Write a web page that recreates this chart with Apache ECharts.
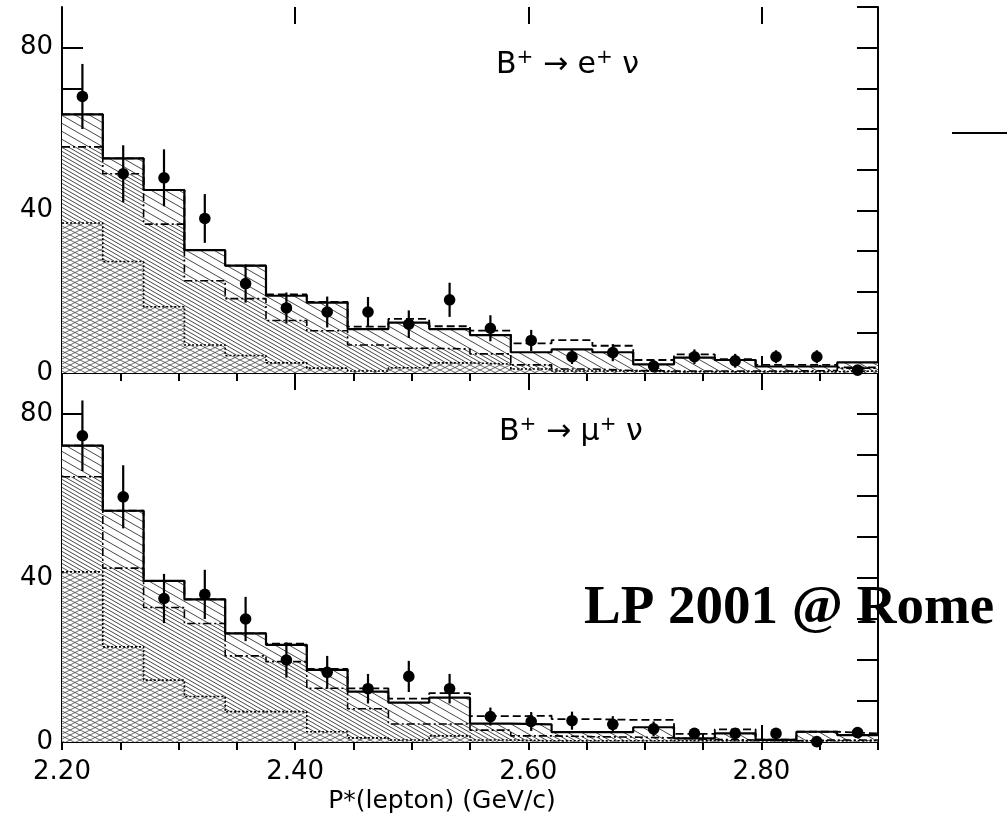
<!DOCTYPE html>
<html>
<head>
<meta charset="utf-8">
<script src="https://cdn.jsdelivr.net/npm/echarts@6/dist/echarts.min.js"></script>
<style>
html,body{margin:0;padding:0;background:#fff;}
#chart{width:1007px;height:818px;}
</style>
</head>
<body>
<div id="chart"></div>
<script>
// ---------- DATA ----------
const binEdges = [2.200,2.235,2.270,2.305,2.340,2.375,2.410,2.445,2.480,2.515,2.550,2.585,2.620,2.655,2.690,2.725,2.760,2.795,2.830,2.865,2.900];
const binCenters = [2.2175,2.2525,2.2875,2.3225,2.3575,2.3925,2.4275,2.4625,2.4975,2.5325,2.5675,2.6025,2.6375,2.6725,2.7075,2.7425,2.7775,2.8125,2.8475,2.8825];
const xTickLabels = ['2.20','2.40','2.60','2.80'];
const yTickLabels = ['0','40','80'];

// B+ -> e+ nu panel
const eTotal   = [63.6,52.8,45.0,30.2,26.4,19.0,17.3,10.8,12.4,10.8,9.3,5.1,5.8,5.1,2.1,3.8,3.2,1.6,1.6,2.6];
const eDashed  = [63.6,52.8,45.0,30.2,26.4,19.3,17.5,11.4,13.3,11.5,10.4,7.3,8.1,6.7,3.2,4.6,3.4,2.0,2.0,1.4];
const eMiddle  = [55.6,49.0,36.6,22.7,18.3,12.9,10.4,6.9,6.1,5.9,4.7,2.0,1.0,0.6,0.5,0.5,0.5,0.5,0.6,1.2];
const eLower   = [36.9,27.4,16.3,6.9,4.3,2.5,1.2,0.5,1.3,2.5,2.2,1.0,0.5,0.5,0.3,0.3,0.3,0.3,0.3,0.5];
const eData    = [68,49,48,38,22,16,15,15,12,18,11,8,4,5,1.7,4,3,4,4,0.7];
const eErr     = [8,7,7,6,4.7,3.8,3.8,3.7,3.4,4.2,3.2,2.6,1.8,2.1,1.5,1.8,1.7,1.6,1.6,0];

// B+ -> mu+ nu panel
const mTotal   = [72.3,56.4,39.3,34.8,26.5,23.7,17.6,12.3,9.6,10.8,4.5,4.3,2.4,2.4,3.6,0.9,2.1,0.5,2.5,1.7];
const mDashed  = [72.3,56.4,39.3,34.8,26.5,24.0,17.8,13.1,10.6,11.9,6.3,6.4,5.6,5.4,5.4,2.0,3.1,0.6,2.5,2.1];
const mMiddle  = [64.7,42.4,32.8,28.9,21.0,19.6,13.1,8.1,4.4,4.4,2.9,1.5,1.3,1.2,1.0,0.6,0.5,0.3,0.5,0.5];
const mLower   = [41.5,23.2,15.1,11.1,7.4,7.4,2.5,1.0,0.5,1.5,0.5,0.3,0.3,0.3,0.3,0.3,0.3,0.3,0.3,0.3];
const mData    = [74.7,59.8,35,36,30,20,17,13,16,13,6.2,5,5.2,4.3,3.2,2.1,2.1,2.1,0.1,2.3];
const mErr     = [8.6,7.7,6,6,5.4,4.3,4,3.6,3.8,3.6,2.2,2.3,2.2,2,1.8,1.2,1.2,1.2,0,1.2];

// ---------- HATCH PATTERNS ----------
function hatch(w, h, offsets, back, fwd, color, lw) {
  const c = document.createElement('canvas');
  c.width = w; c.height = h;
  const g = c.getContext('2d');
  g.fillStyle = '#fff'; g.fillRect(0, 0, w, h);
  g.strokeStyle = color; g.lineWidth = lw;
  g.beginPath();
  for (const ox of offsets) {
    for (let k = -1; k <= 1; k++) {
      const x0 = ox + k * w;
      if (back) { g.moveTo(x0 - w, -h); g.lineTo(x0 + 2 * w, 2 * h); }
      if (fwd)  { g.moveTo(x0 - w, 2 * h); g.lineTo(x0 + 2 * w, -h); }
    }
  }
  g.stroke();
  return { image: c, repeat: 'repeat' };
}
const sparseHatch = hatch(14, 8, [0], true, false, '#333', 0.9);
const denseHatch  = hatch(14, 8, [0, 7], true, false, '#333', 0.9);
const crossHatch  = hatch(10, 5, [0], true, true, '#444', 0.8);

// ---------- HELPERS ----------
function steps(vals) {
  const d = vals.map((v, i) => [binEdges[i], v]);
  d.push([binEdges[binEdges.length - 1], vals[vals.length - 1]]);
  return d;
}
function fill(vals, pattern, xi, yi) {
  return { type: 'line', step: 'end', xAxisIndex: xi, yAxisIndex: yi, data: steps(vals),
    showSymbol: false, silent: true, z: 1, lineStyle: { width: 0, opacity: 0 },
    areaStyle: { color: pattern, opacity: 1 } };
}
function outline(vals, type, width, xi, yi) {
  return { type: 'line', step: 'end', xAxisIndex: xi, yAxisIndex: yi, data: steps(vals),
    showSymbol: false, silent: true, z: 2,
    lineStyle: { color: '#000', width: width, type: type } };
}
function points(vals, errs, xi, yi) {
  return { type: 'custom', xAxisIndex: xi, yAxisIndex: yi, z: 3, silent: true,
    data: binCenters.map((x, i) => [x, vals[i], errs[i]]),
    renderItem: function (params, api) {
      const x = api.value(0), y = api.value(1), e = api.value(2);
      const p = api.coord([x, y]);
      const hi = api.coord([x, y + e]);
      const lo = api.coord([x, Math.max(0, y - e)]);
      return { type: 'group', children: [
        { type: 'line', shape: { x1: p[0], y1: hi[1], x2: p[0], y2: lo[1] }, style: { stroke: '#000', lineWidth: 2.2 } },
        { type: 'circle', shape: { cx: p[0], cy: p[1], r: 5.8 }, style: { fill: '#000' } }
      ] };
    } };
}
const axisLineStyle = { show: true, lineStyle: { color: '#000', width: 2 } };
function xAx(grid, pos, interval, len, showLine, labels) {
  return { type: 'value', gridIndex: grid, position: pos, min: 2.2, max: 2.9, interval: interval,
    axisLine: showLine ? axisLineStyle : { show: false },
    axisTick: { show: true, inside: true, length: len, lineStyle: { color: '#000', width: 2 } },
    splitLine: { show: false },
    axisLabel: labels ? { show: true, margin: 17, color: '#000', fontSize: 26, fontFamily: 'DejaVu Sans',
      showMinLabel: true, showMaxLabel: false,
      formatter: v => { const s = v.toFixed(2); return xTickLabels.indexOf(s) >= 0 ? s : ''; } } : { show: false } };
}
function yAx(grid, pos, labels) {
  return { type: 'value', gridIndex: grid, position: pos, min: 0, max: 90, interval: 10,
    axisLine: axisLineStyle,
    axisTick: { show: true, inside: true, length: 21, lineStyle: { color: '#000', width: 2 } },
    splitLine: { show: false },
    axisLabel: labels ? { show: true, margin: 9, color: '#000', fontSize: 26, fontFamily: 'DejaVu Sans',
      showMinLabel: true, showMaxLabel: false,
      formatter: v => { const s = String(v); return yTickLabels.indexOf(s) >= 0 ? s : ''; } } : { show: false } };
}

const labelRich = {
  b: { fontSize: 30, fontFamily: 'DejaVu Sans', color: '#000', lineHeight: 34, verticalAlign: 'middle' },
  s: { fontSize: 20, fontFamily: 'DejaVu Sans', color: '#000', lineHeight: 20, verticalAlign: 'top' }
};

const option = {
  animation: false,
  backgroundColor: '#fff',
  grid: [
    { left: 62, right: 129, top: 7, height: 366, show: false },
    { left: 62, right: 129, top: 373, height: 369, show: false }
  ],
  xAxis: [
    xAx(0, 'bottom', 0.05, 8, true, false),
    xAx(0, 'top', 0.05, 8, true, false),
    xAx(0, 'bottom', 0.2, 17, false, false),
    xAx(0, 'top', 0.2, 17, false, false),
    xAx(1, 'bottom', 0.05, 8, true, false),
    xAx(1, 'top', 0.05, 8, true, false),
    xAx(1, 'bottom', 0.2, 17, false, true),
    xAx(1, 'top', 0.2, 17, false, false)
  ],
  yAxis: [
    yAx(0, 'left', true), yAx(0, 'right', false),
    yAx(1, 'left', true), yAx(1, 'right', false)
  ],
  series: [
    fill(eTotal, sparseHatch, 0, 0),
    fill(eMiddle, denseHatch, 0, 0),
    fill(eLower, crossHatch, 0, 0),
    outline(eLower, [2, 2], 1.6, 0, 0),
    outline(eMiddle, [8, 3, 2, 3], 1.6, 0, 0),
    outline(eDashed, [8, 4], 1.8, 0, 0),
    outline(eTotal, 'solid', 2.2, 0, 0),
    points(eData, eErr, 0, 0),

    fill(mTotal, sparseHatch, 4, 2),
    fill(mMiddle, denseHatch, 4, 2),
    fill(mLower, crossHatch, 4, 2),
    outline(mLower, [2, 2], 1.6, 4, 2),
    outline(mMiddle, [8, 3, 2, 3], 1.6, 4, 2),
    outline(mDashed, [8, 4], 1.8, 4, 2),
    outline(mTotal, 'solid', 2.2, 4, 2),
    points(mData, mErr, 4, 2)
  ],
  graphic: [
    { type: 'text', left: 496, top: 48, z: 100,
      style: { text: '{b|B}{s|+}{b| → e}{s|+}{b| ν}', rich: labelRich } },
    { type: 'text', left: 499, top: 415, z: 100,
      style: { text: '{b|B}{s|+}{b| → μ}{s|+}{b| ν}', rich: labelRich } },
    { type: 'text', x: 442, y: 801, z: 100,
      style: { text: 'P*(lepton) (GeV/c)', fill: '#000', font: '25px "DejaVu Sans"', textAlign: 'center', textVerticalAlign: 'middle' } },
    { type: 'text', x: 584, y: 609, z: 101,
      style: { text: 'LP 2001 @ Rome', fill: '#000', font: 'bold 55px "Liberation Serif"', textAlign: 'left', textVerticalAlign: 'middle' } },
    { type: 'line', z: 100, shape: { x1: 952, y1: 133, x2: 1007, y2: 133 }, style: { stroke: '#000', lineWidth: 2 } }
  ]
};

const chart = echarts.init(document.getElementById('chart'), null, { renderer: 'canvas' });
chart.setOption(option);
</script>
</body>
</html>
